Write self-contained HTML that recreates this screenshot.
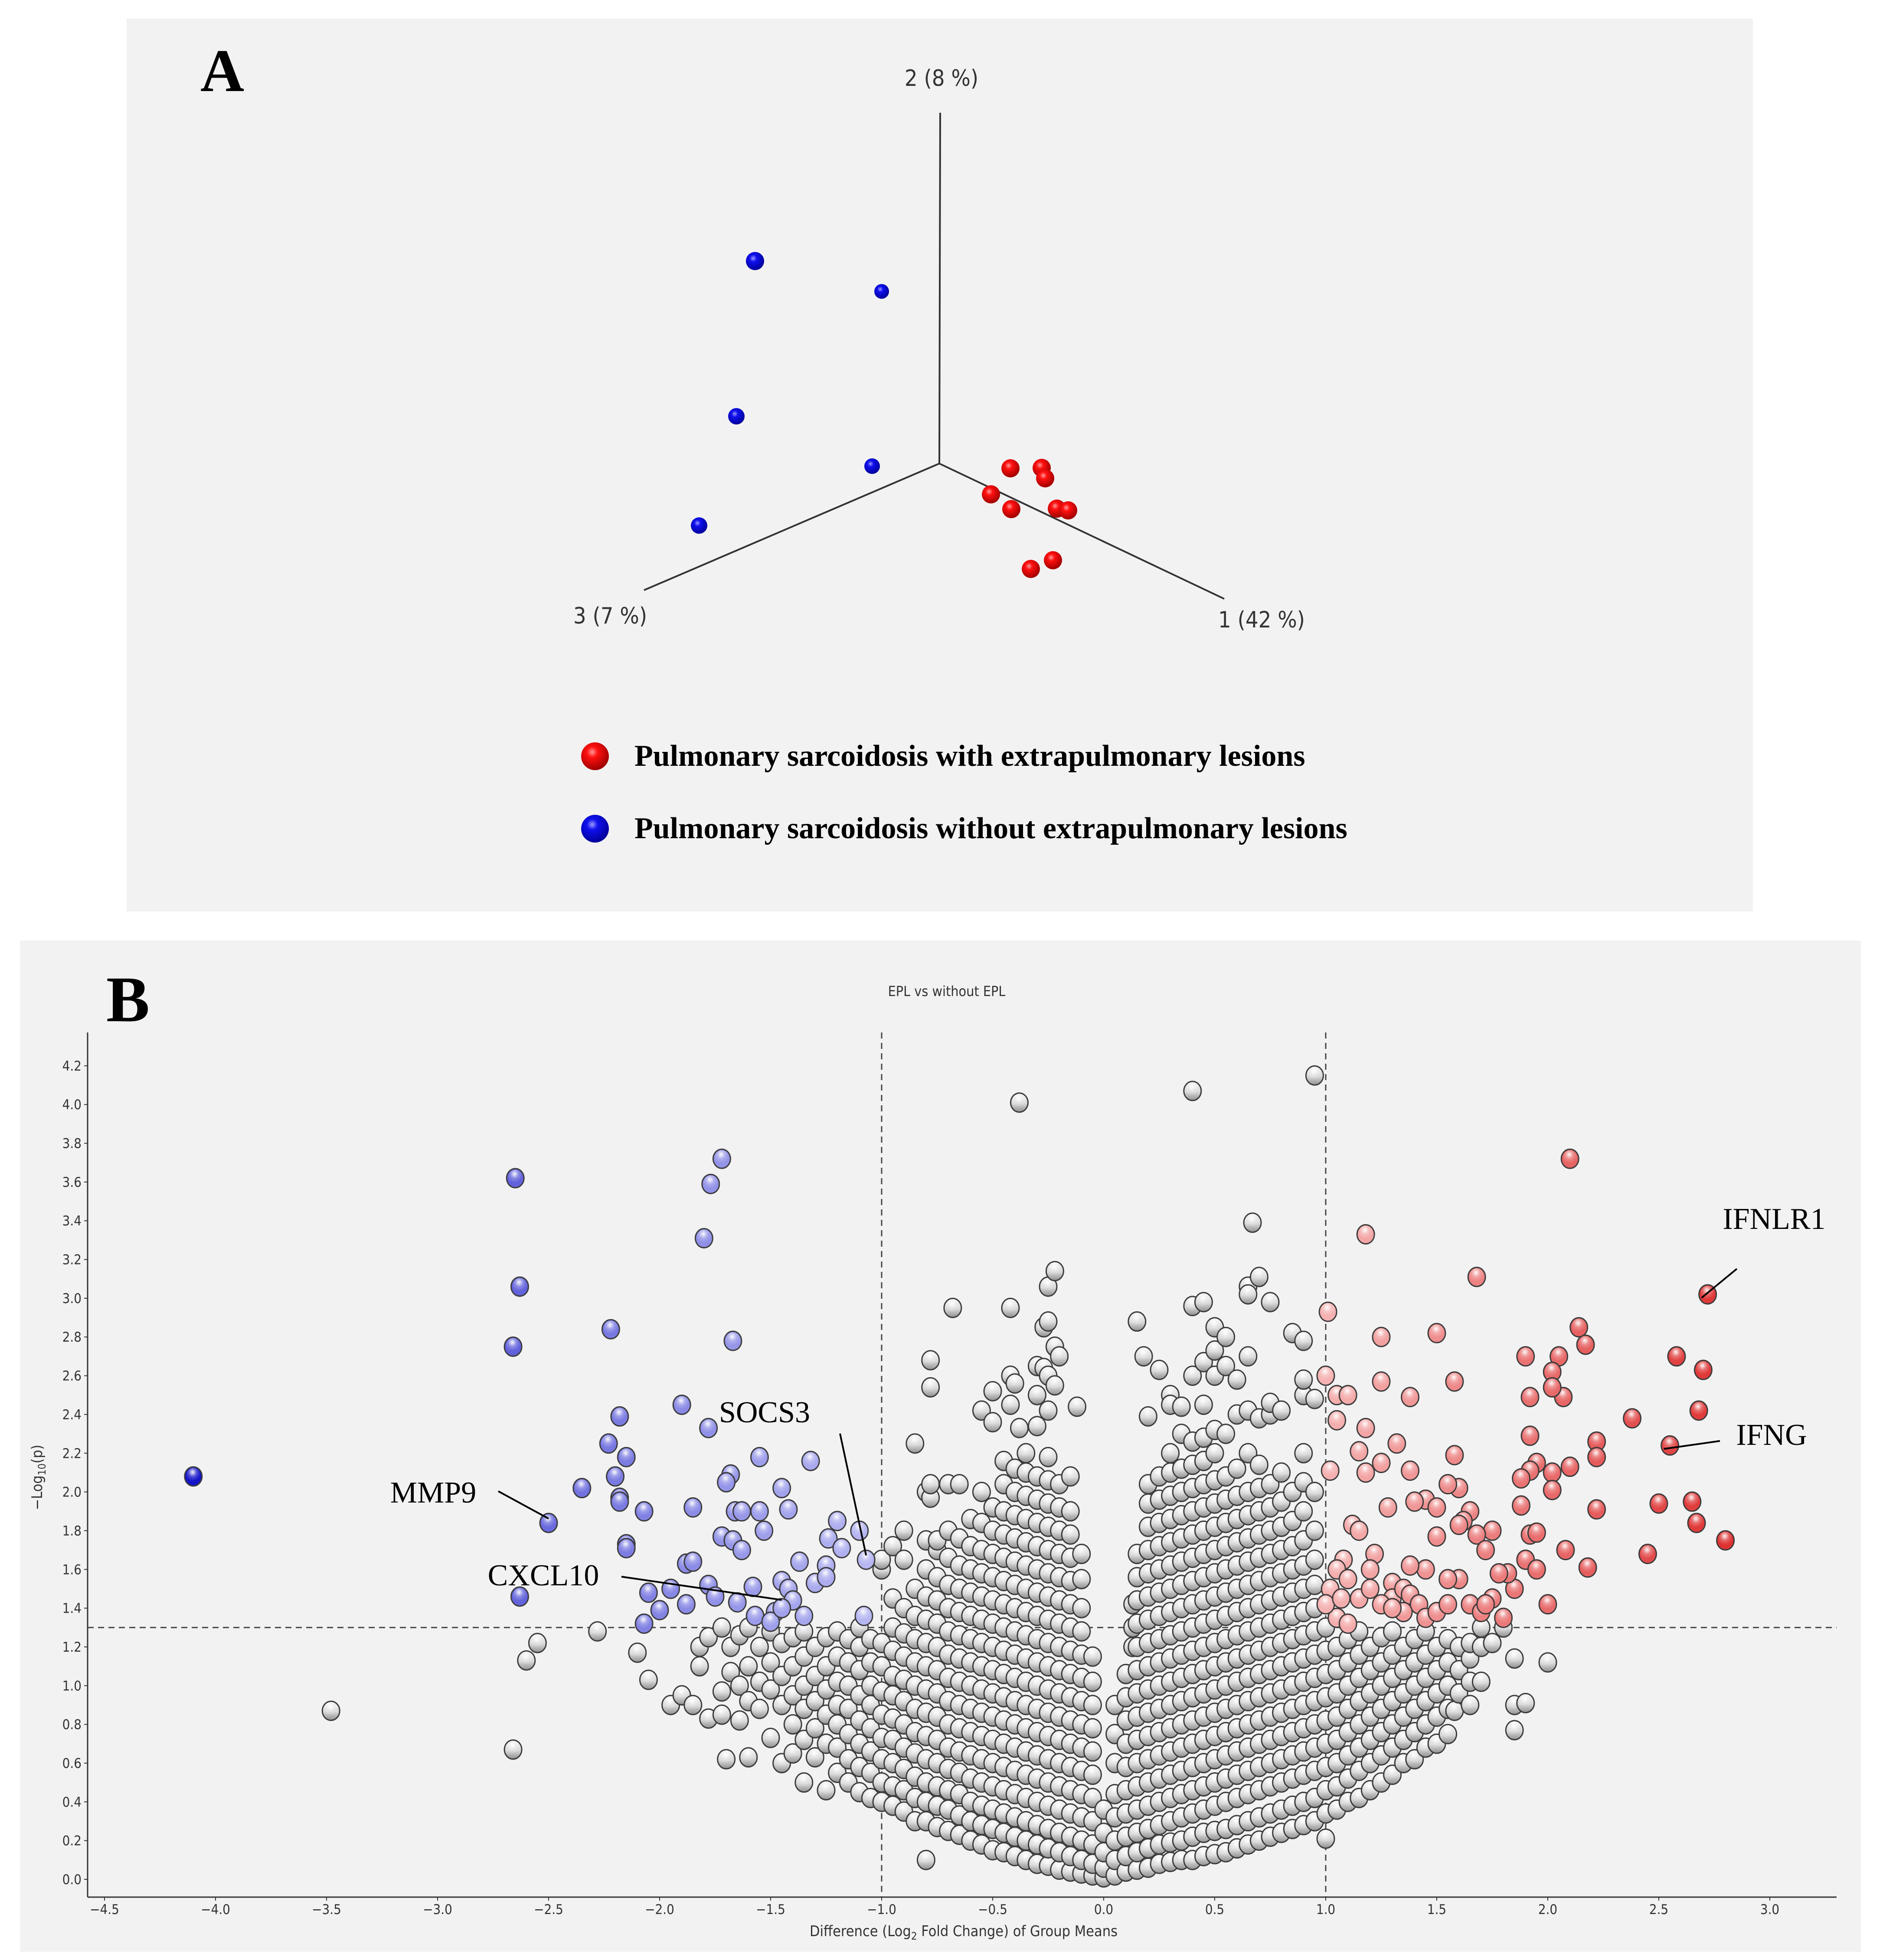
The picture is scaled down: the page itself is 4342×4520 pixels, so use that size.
<!DOCTYPE html>
<html><head><meta charset="utf-8"><style>
html,body{margin:0;padding:0;background:#fff;}
svg{display:block;}
text{font-family:"DejaVu Sans Condensed","Liberation Sans",sans-serif;}
</style></head><body>
<svg id="fig" width="4342" height="4520" viewBox="0 0 4342 4520" xmlns="http://www.w3.org/2000/svg">
<defs>
<radialGradient id="shine" cx="0.45" cy="0.3" r="0.6">
<stop offset="0" stop-color="#fff" stop-opacity="0.95"/>
<stop offset="0.5" stop-color="#fff" stop-opacity="0.25"/>
<stop offset="1" stop-color="#fff" stop-opacity="0"/>
</radialGradient>
<linearGradient id="grayg" x1="0" y1="0" x2="0" y2="1">
<stop offset="0" stop-color="#f4f4f4"/><stop offset="0.55" stop-color="#d8d8d8"/><stop offset="1" stop-color="#8f8f8f"/>
</linearGradient>
<radialGradient id="redball" cx="0.4" cy="0.35" r="0.65">
<stop offset="0" stop-color="#ff9a9a"/><stop offset="0.3" stop-color="#ff1010"/><stop offset="1" stop-color="#a00000"/>
</radialGradient>
<radialGradient id="blueball" cx="0.4" cy="0.35" r="0.65">
<stop offset="0" stop-color="#9a9aff"/><stop offset="0.3" stop-color="#1010ee"/><stop offset="1" stop-color="#00009a"/>
</radialGradient>
</defs>

<!-- Panel A -->
<rect x="292" y="43" width="3750" height="2059" fill="#f2f2f2"/>
<text x="462" y="210" font-family="Liberation Serif" font-weight="bold" font-size="140" style="font-family:'Liberation Serif',serif">A</text>
<g stroke="#333" stroke-width="4">
<line x1="2166" y1="1069" x2="2168" y2="260"/>
<line x1="2166" y1="1069" x2="1485" y2="1361"/>
<line x1="2166" y1="1069" x2="2823" y2="1381"/>
</g>
<text x="2171" y="198" font-size="52" fill="#333" text-anchor="middle">2 (8 %)</text>
<text x="1407" y="1438" font-size="52" fill="#333" text-anchor="middle">3 (7 %)</text>
<text x="2909" y="1447" font-size="52" fill="#333" text-anchor="middle">1 (42 %)</text>
<g id="pca"></g>
<circle cx="1372" cy="1744" r="32" fill="url(#redball)"/>
<text x="1463" y="1766" font-size="70" font-weight="bold" style="font-family:'Liberation Serif',serif">Pulmonary sarcoidosis with extrapulmonary lesions</text>
<circle cx="1372" cy="1911" r="32" fill="url(#blueball)"/>
<text x="1463" y="1933" font-size="70" font-weight="bold" style="font-family:'Liberation Serif',serif">Pulmonary sarcoidosis without extrapulmonary lesions</text>

<!-- Panel B -->
<rect x="46" y="2169" width="4245" height="2332" fill="#f2f2f2"/>
<text x="245" y="2355" font-weight="bold" font-size="150" style="font-family:'Liberation Serif',serif">B</text>
<text x="2183" y="2297" font-size="32" fill="#333" text-anchor="middle">EPL vs without EPL</text>
<g id="axes"></g>
<g id="pts"></g>
<g id="ann"></g>
<text x="2222" y="4465" font-size="34" fill="#333" text-anchor="middle">Difference (Log<tspan font-size="24" dy="8">2</tspan><tspan dy="-8"> Fold Change) of Group Means</tspan></text>
<text transform="translate(97,3407) rotate(-90)" font-size="34" fill="#333" text-anchor="middle">−Log<tspan font-size="24" dy="8">10</tspan><tspan dy="-8">(p)</tspan></text>
</svg>
<script>
const NS='http://www.w3.org/2000/svg';
// PCA data (screen projection of 3D scores)
const pcaRed=[[2330,1080],[2402,1079],[2410,1103],[2285,1140],[2332,1174],[2437,1173],[2463,1177],[2428,1292],[2377,1312]];
const pcaBlue=[[1741,602,21],[2033,672,17],[1698,960,19],[2011,1075,18],[1612,1212,19]];
// Volcano data
const xTicks=[-4.5,-4.0,-3.5,-3.0,-2.5,-2.0,-1.5,-1.0,-0.5,0.0,0.5,1.0,1.5,2.0,2.5,3.0];
const yTicks=[0,0.2,0.4,0.6,0.8,1.0,1.2,1.4,1.6,1.8,2.0,2.2,2.4,2.6,2.8,3.0,3.2,3.4,3.6,3.8,4.0,4.2];
const blueX=[-4.1,-2.65,-2.63,-2.66,-2.63,-2.5,-2.22,-2.18,-2.23,-2.2,-2.15,-2.18,-2.18,-2.15,-2.15,-2.07,-2.35,-2.05,-2.07,-2.0,-1.95,-1.9,-1.88,-1.85,-1.88,-1.85,-1.78,-1.75,-1.72,-1.77,-1.8,-1.78,-1.67,-1.68,-1.7,-1.72,-1.66,-1.63,-1.67,-1.63,-1.65,-1.58,-1.57,-1.55,-1.55,-1.53,-1.45,-1.42,-1.45,-1.42,-1.4,-1.48,-1.5,-1.37,-1.32,-1.3,-1.25,-1.25,-1.24,-1.2,-1.18,-1.1,-1.07,-1.08,-1.35,-1.45];
const blueY=[2.08,3.62,3.06,2.75,1.46,1.84,2.84,2.39,2.25,2.08,2.18,1.97,1.95,1.73,1.71,1.90,2.02,1.48,1.32,1.39,1.5,2.45,1.63,1.64,1.42,1.92,1.52,1.46,3.72,3.59,3.31,2.33,2.78,2.09,2.05,1.77,1.9,1.9,1.75,1.7,1.43,1.51,1.36,2.18,1.9,1.8,2.02,1.91,1.54,1.5,1.44,1.38,1.33,1.64,2.16,1.53,1.62,1.56,1.76,1.85,1.71,1.80,1.65,1.36,1.36,1.40];
const redX=[2.1,1.18,1.68,2.72,1.01,2.14,1.25,1.5,2.17,2.58,2.05,1.9,2.7,1.0,1.25,1.58,2.02,1.92,2.07,2.02,1.05,1.1,1.38,2.68,1.32,1.05,1.18,2.38,1.92,2.55,2.22,2.22,1.15,1.25,1.38,1.58,1.02,1.18,1.95,1.92,2.02,2.1,1.88,1.6,1.55,1.45,1.4,1.28,1.5,1.88,2.02,2.22,2.5,2.65,2.67,2.8,2.45,2.18,2.08,1.92,1.95,1.75,1.65,1.68,1.72,1.62,1.6,1.5,1.45,1.38,1.3,1.22,1.2,1.12,1.15,1.08,1.05,1.02,1.1,1.15,1.2,1.3,1.35,1.38,1.42,1.45,1.5,1.55,1.6,1.65,1.7,1.75,1.8,1.85,1.9,1.95,2.0,1.82,1.78,1.72,1.55,1.35,1.25,1.05,1.1,1.0,1.07,1.3];
const redY=[3.72,3.33,3.11,3.02,2.93,2.85,2.80,2.82,2.76,2.70,2.70,2.70,2.63,2.6,2.57,2.57,2.62,2.49,2.49,2.54,2.5,2.5,2.49,2.42,2.25,2.37,2.33,2.38,2.29,2.24,2.26,2.18,2.21,2.15,2.11,2.19,2.11,2.10,2.15,2.11,2.1,2.13,2.07,2.02,2.04,1.96,1.95,1.92,1.92,1.93,2.01,1.91,1.94,1.95,1.84,1.75,1.68,1.61,1.70,1.78,1.79,1.8,1.9,1.78,1.7,1.85,1.83,1.77,1.6,1.62,1.53,1.68,1.6,1.83,1.8,1.65,1.60,1.5,1.55,1.45,1.5,1.45,1.5,1.47,1.42,1.35,1.38,1.42,1.55,1.42,1.38,1.45,1.35,1.5,1.65,1.6,1.42,1.58,1.58,1.42,1.55,1.38,1.42,1.35,1.32,1.42,1.45,1.4];
const grayCols=[
[-3.48,[0.87]],[-2.66,[0.67]],[-2.6,[1.13]],[-2.55,[1.22]],[-2.28,[1.28]],[-2.1,[1.17]],[-2.05,[1.03]],[-1.95,[0.9]],[-1.9,[0.95]],[-1.85,[0.9]],[-1.82,[1.1,1.2]],[-1.78,[0.83,1.25]],[-1.72,[0.85,0.97,1.3]],[-1.7,[0.62]],[-1.68,[1.07,1.2]],[-1.64,[0.82,1.0,1.26]],[-1.6,[0.63,0.92,1.1,1.3]],[-1.55,[0.88,1.02,1.2]],[-1.5,[0.73,0.98,1.12,1.28]],[-1.45,[0.6,0.9,1.05,1.22]],[-1.4,[0.65,0.8,0.95,1.1,1.25]],[-1.35,[0.5,0.72,0.88,1.0,1.15,1.28]],[-1.3,[0.63,0.78,0.92,1.05,1.2]],[-1.25,[0.46,0.7,0.85,0.98,1.1,1.25]],[-1.2,[0.55,0.68,0.8,0.9,1.02,1.15,1.28]],[-1.15,[0.5,0.62,0.75,0.88,1.0,1.12,1.24]],[-1.1,[0.45,0.58,0.7,0.82,0.95,1.08,1.2,1.3]],[-1.05,[0.42,0.55,0.66,0.78,0.9,1.0,1.12,1.24]],[-1.0,[0.4,0.5,0.62,0.73,0.85,0.97,1.1,1.22,1.6,1.65]],[-0.95,[0.38,0.48,0.6,0.72,0.83,0.95,1.05,1.18,1.3,1.45,1.72]],[-0.9,[0.35,0.46,0.57,0.68,0.8,0.92,1.03,1.15,1.27,1.4,1.65,1.8]],[-0.85,[0.3,0.42,0.53,0.65,0.76,0.88,1.0,1.12,1.24,1.36,1.5,2.25]],[-0.8,[0.1,0.3,0.4,0.5,0.62,0.74,0.86,0.98,1.1,1.22,1.34,1.46,1.6,1.75,2.0]],[-0.78,[2.68,2.54,1.97,2.04]],[-0.75,[0.27,0.38,0.48,0.6,0.72,0.84,0.96,1.08,1.2,1.32,1.44,1.56,1.7,1.75]],[-0.7,[0.25,0.36,0.46,0.57,0.68,0.8,0.92,1.04,1.16,1.28,1.4,1.52,1.66,1.8,2.04]],[-0.68,[2.95]],[-0.65,[0.23,0.33,0.44,0.55,0.66,0.78,0.9,1.02,1.14,1.26,1.38,1.5,1.62,1.76,2.04]],[-0.6,[0.2,0.3,0.4,0.52,0.64,0.76,0.88,1.0,1.12,1.24,1.36,1.48,1.6,1.72,1.86]],[-0.55,[0.18,0.28,0.38,0.5,0.62,0.74,0.86,0.98,1.1,1.22,1.34,1.46,1.58,1.7,1.84,2.0,2.42]],[-0.5,[0.15,0.26,0.36,0.48,0.6,0.72,0.84,0.96,1.08,1.2,1.32,1.44,1.56,1.68,1.8,1.92,2.36,2.52]],[-0.45,[0.14,0.24,0.34,0.46,0.58,0.7,0.82,0.94,1.06,1.18,1.3,1.42,1.54,1.66,1.78,1.9,2.04,2.16]],[-0.42,[2.95,2.6,2.45]],[-0.4,[0.12,0.22,0.32,0.44,0.56,0.68,0.8,0.92,1.04,1.16,1.28,1.4,1.52,1.64,1.76,1.88,2.0,2.12,2.56]],[-0.38,[4.01,2.33]],[-0.35,[0.1,0.2,0.3,0.42,0.54,0.66,0.78,0.9,1.02,1.14,1.26,1.38,1.5,1.62,1.74,1.86,1.98,2.1,2.2]],[-0.3,[0.08,0.18,0.28,0.4,0.52,0.64,0.76,0.88,1.0,1.12,1.24,1.36,1.48,1.6,1.72,1.84,1.96,2.08,2.34,2.5,2.65]],[-0.27,[2.85,2.64]],[-0.25,[0.07,0.16,0.26,0.38,0.5,0.62,0.74,0.86,0.98,1.1,1.22,1.34,1.46,1.58,1.7,1.82,1.94,2.06,2.18,2.42,2.6,2.88,3.06]],[-0.22,[3.14,2.75,2.55]],[-0.2,[0.05,0.14,0.24,0.36,0.48,0.6,0.72,0.84,0.96,1.08,1.2,1.32,1.44,1.56,1.68,1.8,1.92,2.04,2.7]],[-0.15,[0.04,0.12,0.22,0.34,0.46,0.58,0.7,0.82,0.94,1.06,1.18,1.3,1.42,1.54,1.66,1.78,1.9,2.08]],[-0.12,[2.44]],[-0.1,[0.03,0.1,0.2,0.32,0.44,0.56,0.68,0.8,0.92,1.04,1.16,1.28,1.4,1.55,1.68]],[-0.05,[0.02,0.08,0.18,0.3,0.42,0.54,0.66,0.78,0.9,1.02,1.15]],[0.0,[0.01,0.06,0.14,0.24,0.36]],[0.05,[0.02,0.1,0.2,0.32,0.44,0.6,0.75,0.9]],
[0.1,[0.04,0.12,0.22,0.34,0.46,0.58,0.7,0.82,0.94,1.06]],[0.13,[1.2,1.3,1.42]],[0.15,[0.05,0.14,0.24,0.36,0.48,0.6,0.72,0.84,0.96,1.08,1.2,1.32,1.44,1.56,1.68,2.88]],[0.18,[2.7]],[0.2,[0.06,0.16,0.26,0.38,0.5,0.62,0.74,0.86,0.98,1.1,1.22,1.34,1.46,1.58,1.7,1.82,1.94,2.04,2.39]],[0.25,[0.08,0.18,0.28,0.4,0.52,0.64,0.76,0.88,1.0,1.12,1.24,1.36,1.48,1.6,1.72,1.84,1.96,2.08,2.63]],[0.3,[0.09,0.19,0.3,0.42,0.54,0.66,0.78,0.9,1.02,1.14,1.26,1.38,1.5,1.62,1.74,1.86,1.98,2.1,2.2,2.5,2.45]],[0.35,[0.1,0.2,0.32,0.44,0.56,0.68,0.8,0.92,1.04,1.16,1.28,1.4,1.52,1.64,1.76,1.88,2.0,2.12,2.3,2.44]],[0.4,[0.1,0.22,0.34,0.46,0.58,0.7,0.82,0.94,1.06,1.18,1.3,1.42,1.54,1.66,1.78,1.9,2.02,2.14,2.26,2.96,4.07,2.6]],[0.45,[0.12,0.24,0.36,0.48,0.6,0.72,0.84,0.96,1.08,1.2,1.32,1.44,1.56,1.68,1.8,1.92,2.04,2.16,2.28,2.45,2.67,2.98]],[0.5,[0.13,0.25,0.38,0.5,0.62,0.74,0.86,0.98,1.1,1.22,1.34,1.46,1.58,1.7,1.82,1.94,2.06,2.2,2.32,2.6,2.73,2.85]],[0.55,[0.14,0.26,0.4,0.52,0.64,0.76,0.88,1.0,1.12,1.24,1.36,1.48,1.6,1.72,1.84,1.96,2.08,2.3,2.65,2.8]],[0.6,[0.16,0.28,0.42,0.54,0.66,0.78,0.9,1.02,1.14,1.26,1.38,1.5,1.62,1.74,1.86,1.98,2.12,2.4,2.58]],[0.65,[0.18,0.3,0.44,0.56,0.68,0.8,0.92,1.04,1.16,1.28,1.4,1.52,1.64,1.76,1.88,2.0,2.2,2.42,3.06,3.02,2.7]],[0.67,[3.39]],[0.7,[0.2,0.32,0.46,0.58,0.7,0.82,0.94,1.06,1.18,1.3,1.42,1.54,1.66,1.78,1.9,2.02,2.14,2.38,3.11]],[0.75,[0.22,0.34,0.48,0.6,0.72,0.84,0.96,1.08,1.2,1.32,1.44,1.56,1.68,1.8,1.92,2.04,2.4,2.98,2.46]],[0.8,[0.24,0.36,0.5,0.62,0.74,0.86,0.98,1.1,1.22,1.34,1.46,1.58,1.7,1.82,1.95,2.1,2.42]],[0.85,[0.26,0.38,0.52,0.64,0.76,0.88,1.0,1.12,1.24,1.36,1.48,1.6,1.72,1.85,2.0,2.82]],[0.9,[0.28,0.4,0.54,0.66,0.78,0.9,1.02,1.14,1.26,1.38,1.5,1.62,1.75,1.9,2.05,2.2,2.5,2.58,2.78]],[0.95,[0.3,0.42,0.56,0.68,0.8,0.92,1.04,1.16,1.28,1.4,1.52,1.65,1.8,2.0,2.48,4.15]],[1.0,[0.21,0.34,0.46,0.58,0.7,0.82,0.94,1.06,1.18,1.3]],[1.05,[0.36,0.48,0.6,0.72,0.84,0.96,1.08,1.2]],[1.1,[0.4,0.52,0.64,0.76,0.88,1.0,1.12,1.24]],[1.15,[0.42,0.56,0.68,0.8,0.92,1.04,1.16,1.28]],[1.2,[0.46,0.6,0.72,0.84,0.96,1.08,1.2]],[1.25,[0.5,0.64,0.76,0.88,1.0,1.12,1.25]],[1.3,[0.54,0.68,0.8,0.92,1.04,1.16,1.28]],[1.35,[0.6,0.72,0.84,0.96,1.08,1.2]],[1.4,[0.62,0.76,0.88,1.0,1.12,1.24]],[1.45,[0.68,0.8,0.92,1.04,1.16,1.28]],[1.5,[0.7,0.84,0.96,1.08,1.2]],[1.55,[0.75,0.88,1.0,1.12,1.24]],[1.58,[0.87]],[1.6,[0.96,1.08,1.2]],[1.65,[0.9,1.02,1.14,1.22]],[1.7,[1.02,1.2,1.3]],[1.75,[1.22]],[1.8,[1.3]],[1.85,[1.14,0.77,0.9]],[1.9,[0.91]],[2.0,[1.12]]];
const annLabels=['IFNLR1','IFNG','MMP9','SOCS3','CXCL10'];
const annX=[2.72,2.55,-2.5,-1.07,-1.45];
const annY=[3.02,2.24,1.84,1.65,1.42];

const X=v=>2545+v*512, Y=v=>4334-v*446.7;
function el(tag,attrs,parent){const e=document.createElementNS(NS,tag);for(const k in attrs)e.setAttribute(k,attrs[k]);parent.appendChild(e);return e;}

// PCA points
const pca=document.getElementById('pca');
pcaBlue.forEach(p=>{const c=el('circle',{cx:p[0],cy:p[1],r:p[2],fill:'url(#blueball)'},pca);

});
pcaRed.forEach(p=>{const c=el('circle',{cx:p[0],cy:p[1],r:21,fill:'url(#redball)'},pca);

});

// axes
const ax=document.getElementById('axes');
const yl=el('line',{x1:202,y1:2381,x2:202,y2:4375,stroke:'#333','stroke-width':3},ax);


const xl=el('line',{x1:202,y1:4375,x2:4235,y2:4375,stroke:'#333','stroke-width':3},ax);


yTicks.forEach(v=>{el('line',{x1:194,y1:Y(v),x2:202,y2:Y(v),stroke:'#333','stroke-width':2},ax);
const t=el('text',{x:188,y:Y(v)+11,'font-size':31,fill:'#333','text-anchor':'end'},ax);t.textContent=v.toFixed(1);

});
xTicks.forEach(v=>{el('line',{x1:X(v),y1:4375,x2:X(v),y2:4383,stroke:'#333','stroke-width':2},ax);
const t=el('text',{x:X(v),y:4414,'font-size':31,fill:'#333','text-anchor':'middle'},ax);t.textContent=(v<0?'−':'')+Math.abs(v).toFixed(1);

});
const th=el('line',{x1:202,y1:Y(1.3),x2:4235,y2:Y(1.3),stroke:'#444','stroke-width':3,'stroke-dasharray':'14 10'},ax);


[-1,1].forEach(v=>{const l=el('line',{x1:X(v),y1:2381,x2:X(v),y2:4375,stroke:'#444','stroke-width':3,'stroke-dasharray':'14 10'},ax);

});

// points
const pts=document.getElementById('pts');
function ball(x,y,fill,name){
const g=el('g',{},pts);


el('ellipse',{cx:X(x),cy:Y(y),rx:20,ry:22,fill:fill,stroke:'#3c3c3c','stroke-width':3},g);
el('ellipse',{cx:X(x),cy:Y(y)-3,rx:16,ry:17,fill:'url(#shine)'},g);}
grayCols.forEach(c=>c[1].forEach(y=>ball(c[0],y,'url(#grayg)','gray-point')));
function mix(a,b,t){t=Math.max(0,Math.min(1,t));return 'rgb('+a.map((v,i)=>Math.round(v+(b[i]-v)*t)).join(',')+')';}
blueX.forEach((x,i)=>ball(x,blueY[i],mix([186,186,242],[20,20,200],(-x-1)/3.1),'down-regulated-point'));
redX.forEach((x,i)=>ball(x,redY[i],mix([245,178,178],[222,50,50],(x-1)/1.8),'up-regulated-point'));

// annotations
const ann=document.getElementById('ann');
const annText=[[4091,2834,'middle',4005,2926],[4085,3332,'middle',3966,3323],[999,3465,'middle',1149,3439],[1763,3280,'middle',1937,3306],[1253,3656,'middle',1433,3636]];
annLabels.forEach((s,i)=>{const a=annText[i];
const l=el('line',{x1:a[3],y1:a[4],x2:X(annX[i])+(annX[i]>0?-14:0),y2:Y(annY[i])+(annX[i]>0?8:-10),stroke:'#000','stroke-width':4},ann);


const t=el('text',{x:a[0],y:a[1],'font-size':70,'text-anchor':a[2],style:"font-family:'Liberation Serif',serif"},ann);t.textContent=s;

});
</script>
</body></html>
